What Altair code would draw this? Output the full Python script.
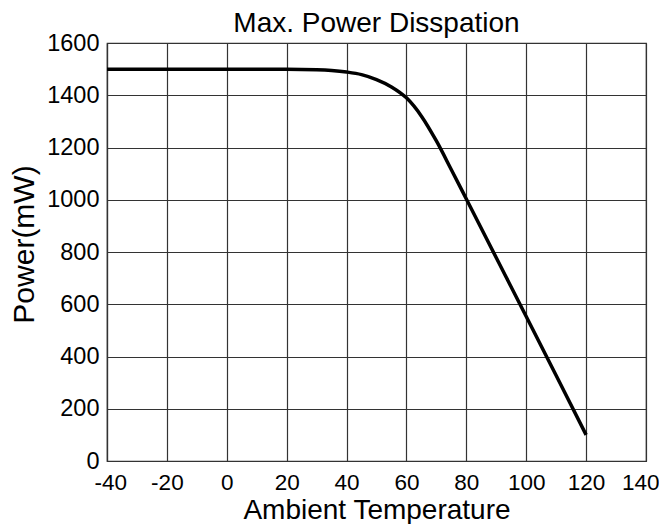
import altair as alt
import pandas as pd

temperature = [-40, -20, 0, 20, 30, 35, 40, 45, 50, 55, 60, 65, 70, 75, 80, 90, 100, 110, 120]
power_mw = [1500, 1500, 1500, 1500, 1498, 1495, 1489, 1479, 1460, 1432, 1390, 1320, 1225, 1115, 1003, 778, 553, 327, 100]
x_ticks = [-40, -20, 0, 20, 40, 60, 80, 100, 120, 140]
y_ticks = [0, 200, 400, 600, 800, 1000, 1200, 1400, 1600]

df = pd.DataFrame({"t": temperature, "p": power_mw})

font = "Liberation Sans"

chart = alt.Chart(df).mark_line(color="black", strokeWidth=3.5, interpolate="monotone").encode(
    x=alt.X("t:Q", scale=alt.Scale(domain=[-40, 140], nice=False, zero=False),
            axis=alt.Axis(values=x_ticks, title="Ambient Temperature", grid=True,
                          labelExpr="datum.value + ''", labelFontSize=22.5,
                          labelFlush=True, labelFlushOffset=13,
                          ticks=False, labelPadding=10, titlePadding=3, titleFontSize=28)),
    y=alt.Y("p:Q", scale=alt.Scale(domain=[0, 1600], nice=False),
            axis=alt.Axis(values=y_ticks, title="Power(mW)", grid=True,
                          labelExpr="datum.value + ''", labelFontSize=23.5, labelFlush=False,
                          ticks=False, labelPadding=8, titlePadding=7, titleFontSize=30,
                          titleY=201)),
).properties(
    width=539, height=418,
    title=alt.TitleParams("Max. Power Disspation", fontSize=28, font=font, fontWeight="normal",
                          color="black", offset=-7, anchor="middle"),
    autosize=alt.AutoSizeParams(type="none"),
    padding={"left": 99, "top": 35, "right": 13, "bottom": 63},
).configure_axis(
    labelFont=font, titleFont=font,
    labelColor="black", titleColor="black", titleFontWeight="normal",
    gridColor="#333333", gridWidth=1.2, gridOpacity=1,
    domainColor="#333333", domainWidth=1.2, labelOverlap=False,
).configure_view(stroke="#333333", strokeWidth=1.2)

chart.save("out.html", embed_options={"renderer": "svg", "actions": False})
